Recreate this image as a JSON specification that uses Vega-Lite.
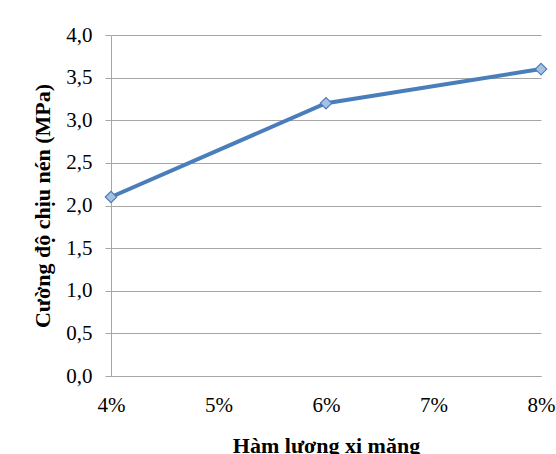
{
  "$schema": "https://vega.github.io/schema/vega-lite/v6.json",
  "width": 430,
  "height": 341,
  "autosize": {"type": "none"},
  "padding": {"left": 111, "top": 35, "right": 15, "bottom": 78},
  "background": "white",
  "config": {
    "view": {"stroke": null},
    "font": "Liberation Serif"
  },
  "data": {
    "values": [
      {"xm": 0.04, "cd": 2.1},
      {"xm": 0.06, "cd": 3.2},
      {"xm": 0.08, "cd": 3.6}
    ]
  },
  "encoding": {
    "x": {
      "field": "xm",
      "type": "quantitative",
      "scale": {"domain": [0.04, 0.08], "nice": false, "zero": false},
      "axis": {
        "title": "Hàm lượng xi măng",
        "format": ".0%",
        "values": [0.04, 0.05, 0.06, 0.07, 0.08],
        "grid": false,
        "ticks": false,
        "labelFont": "Liberation Serif",
        "labelFontSize": 21,
        "labelColor": "#000000",
        "titleFont": "Liberation Serif",
        "titleFontSize": 22,
        "titleColor": "#000000",
        "domainColor": "#a6a6a6",
        "labelPadding": 18,
        "titlePadding": 20,
        "titleFontWeight": "bold",
        "labelFlush": false
      }
    },
    "y": {
      "field": "cd",
      "type": "quantitative",
      "scale": {"domain": [0, 4], "nice": false},
      "axis": {
        "title": "Cường độ chịu nén (MPa)",
        "values": [0, 0.5, 1, 1.5, 2, 2.5, 3, 3.5, 4],
        "labelExpr": "replace(format(datum.value, '.1f'), '.', ',')",
        "labelFont": "Liberation Serif",
        "labelFontSize": 21,
        "labelColor": "#000000",
        "titleFont": "Liberation Serif",
        "titleFontSize": 22,
        "titleColor": "#000000",
        "domainColor": "#a6a6a6",
        "gridColor": "#a6a6a6",
        "tickColor": "#a6a6a6",
        "tickSize": 6,
        "labelPadding": 13,
        "titlePadding": 11,
        "titleFontWeight": "bold",
        "labelFlush": false
      }
    }
  },
  "layer": [
    {
      "mark": {"type": "line", "color": "#4a7ebb", "strokeWidth": 4}
    },
    {
      "mark": {
        "type": "point",
        "shape": "diamond",
        "size": 130,
        "filled": true,
        "fill": "#a9c0e0",
        "stroke": "#4a7ebb",
        "strokeWidth": 1.2,
        "opacity": 1
      }
    }
  ]
}
